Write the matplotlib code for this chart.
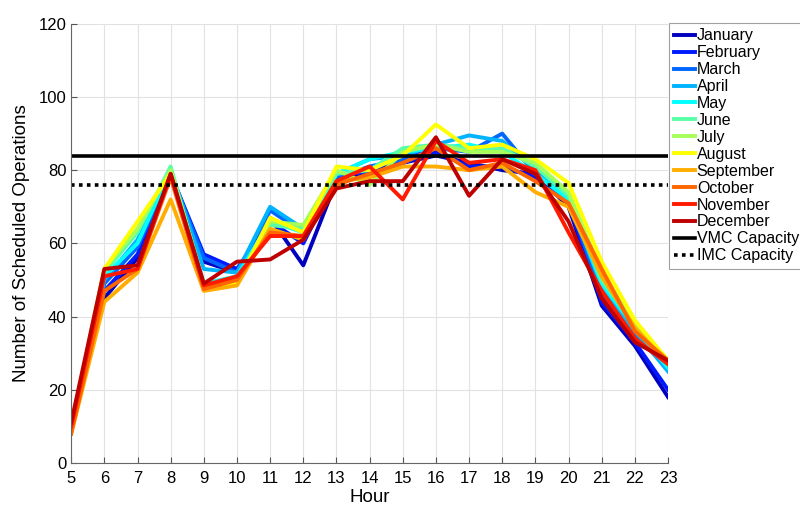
import matplotlib

matplotlib.use("Agg")
import matplotlib.pyplot as plt

plt.rcParams["font.family"] = ["Liberation Sans", "DejaVu Sans"]

hours = list(range(5, 24))
months = ["January", "February", "March", "April", "May", "June", "July",
          "August", "September", "October", "November", "December"]

# scheduled operations per hour, one list per month
jan = [10, 45, 56, 79, 55, 52, 67, 54, 77, 79, 82, 84, 82, 80, 79, 70, 43, 32, 18]
feb = [10, 47, 57, 79, 57, 53, 66, 60, 78, 80, 82, 85, 81, 81, 78, 71, 44, 33, 20]
mar = [10, 49, 59, 79, 56, 52, 69, 63, 78, 81, 83, 86, 85, 90, 79, 72, 46, 35, 26]
apr = [10, 50, 61, 80, 53, 52, 70, 64, 79, 83, 84, 87, 89.5, 88, 80, 73, 48, 36, 25]
may = [10, 51, 60, 80, 49, 51, 66, 63, 79, 83, 85, 86, 87, 85, 79, 72, 49, 37, 26]
jun = [10, 52, 63, 81, 48, 50, 65, 64, 79, 80, 86, 87, 86, 86, 81, 73, 50, 38, 28]
jul = [10, 53, 64, 80, 49, 49, 66, 65, 80, 76, 85, 87, 85, 85, 82, 74, 52, 38, 28]
aug = [9, 53, 66, 79, 48, 49, 67, 63, 81, 80, 84, 92.5, 86, 87, 83, 76.5, 55, 39, 28]
sep = [8, 44, 52, 72, 47, 48.5, 64, 61, 77, 78, 81, 81, 80, 81, 74, 70, 51, 37, 27]
oct_ = [8, 47, 53, 78, 47.5, 50, 63, 62, 76, 79, 82, 86, 80, 82, 77, 71, 53, 36, 28]
nov = [10, 51, 53, 79, 48.5, 51, 62, 62, 77, 81, 72, 88, 82, 83, 80, 63, 47, 34, 27]
dec = [11, 53, 54, 79, 49, 55, 55.6, 61, 75, 77, 77, 89, 73, 83, 79, 66, 45, 33, 28]
series = [jan, feb, mar, apr, may, jun, jul, aug, sep, oct_, nov, dec]

vmc_capacity = 84
imc_capacity = 76

# MATLAB jet(12)
colors = [
    (0, 0, 0.75), (0, 0.1, 1), (0, 0.4, 1), (0, 0.7, 1), (0, 1, 1),
    (0.35, 1, 0.65), (0.65, 1, 0.35), (1, 1, 0), (1, 0.68, 0),
    (1, 0.4, 0), (1, 0.1, 0), (0.75, 0, 0),
]

fig = plt.figure(figsize=(8, 5.07), dpi=100)
ax = fig.add_axes([0.089, 0.087, 0.746, 0.866])

for name, vals, c in zip(months, series, colors):
    ax.plot(hours, vals, color=c, lw=2.8, label=name)
ax.plot([hours[0], hours[-1]], [vmc_capacity] * 2, color="black", lw=2.6,
        label="VMC Capacity")
ax.plot([hours[0], hours[-1]], [imc_capacity] * 2, color="black", lw=2.6,
        ls=(0, (1, 1.2)), label="IMC Capacity")

ax.set_xlim(5, 23)
ax.set_ylim(0, 120)
ax.set_xticks(hours)
ax.set_yticks(range(0, 121, 20))
ax.tick_params(direction="in", labelsize=12, length=4, color="#555555",
               width=0.8)
ax.tick_params(axis="x", pad=6)
ax.grid(True, color="#e2e2e2", lw=0.8)
ax.set_axisbelow(True)
for side in ("top", "right"):
    ax.spines[side].set_visible(False)
for side in ("left", "bottom"):
    ax.spines[side].set_color("#666666")
    ax.spines[side].set_linewidth(0.8)
ax.set_xlabel("Hour", fontsize=13.5, labelpad=2)
ax.set_ylabel("Number of Scheduled Operations", fontsize=13.5, labelpad=6)

leg = ax.legend(loc="upper left", bbox_to_anchor=(0.836, 0.955),
                bbox_transform=fig.transFigure, fontsize=11.5,
                handlelength=1.3, handletextpad=0.1, labelspacing=0.12,
                borderpad=0.35, borderaxespad=0, frameon=True, fancybox=False)
leg.get_frame().set_edgecolor("#888888")
leg.get_frame().set_linewidth(0.8)

fig.savefig("out.png", dpi=100)
